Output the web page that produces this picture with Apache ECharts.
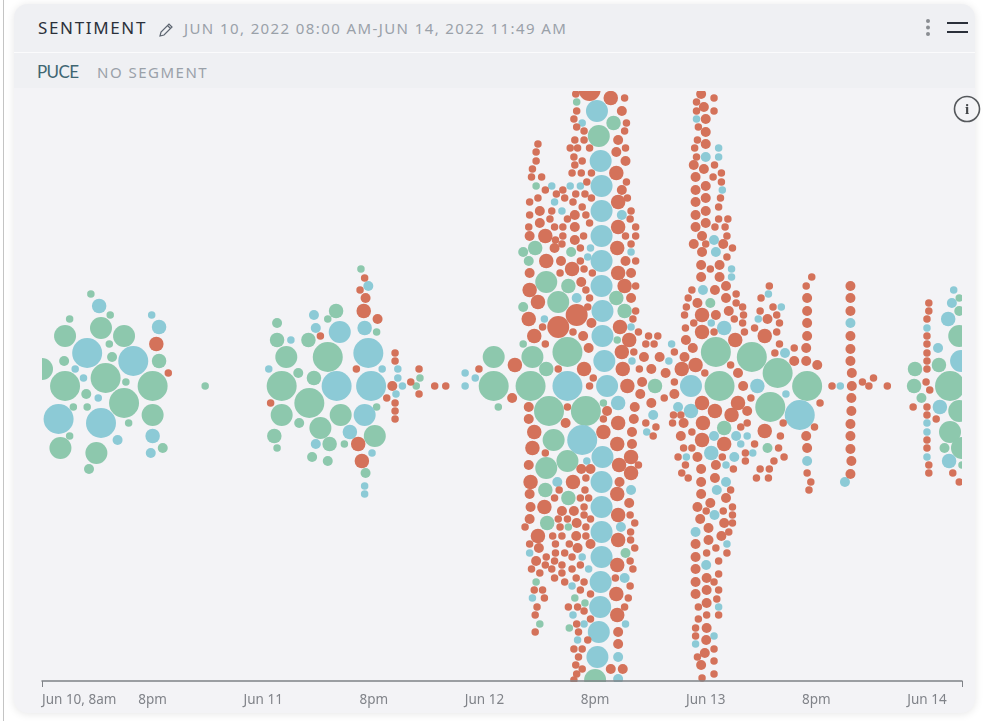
<!DOCTYPE html>
<html>

<head>
    <meta charset="UTF-8">
    <script src="https://cdn.jsdelivr.net/npm/echarts@6/dist/echarts.min.js"></script>
    <style>
    html, body {
        margin: 0;
        height: 100%;
        background: #fff;
        font-family: "Noto Sans", sans-serif;
        overflow: hidden;
    }
    .edge {
        position: absolute;
        left: 3px;
        top: 0;
        bottom: 0;
        width: 1px;
        background: #c4c4c4;
    }
    .card {
        position: absolute;
        left: 14px;
        top: 4px;
        width: 961px;
        height: 709px;
        background: #f3f3f6;
        border-radius: 14px;
        box-shadow: 0 1px 8px rgba(0, 0, 0, .10);
    }
    .head {
        position: absolute;
        left: 14px;
        top: 4px;
        width: 961px;
        height: 84px;
        background: #eff0f3;
        border-radius: 14px 14px 0 0;
        z-index: 2;
    }
    .head .rule {
        position: absolute;
        left: 0;
        right: 0;
        top: 48px;
        height: 1px;
        background: #fbfbfc;
    }
    /* 把超出绘图区的圆遮掉 */
    .mask {
        position: absolute;
        background: #f3f3f6;
        z-index: 2;
    }
    .txt {
        position: absolute;
        white-space: nowrap;
        z-index: 3;
    }
    #chart {
        position: absolute;
        left: 0;
        top: 0;
        width: 983px;
        height: 721px;
        z-index: 1;
    }
    svg {
        position: absolute;
        z-index: 3;
    }
    </style>
</head>

<body>
    <div class="edge"></div>
    <div class="card"></div>
    <div id="chart"></div>
    <div class="head"><div class="rule"></div></div>
    <div class="mask" style="left:14px;top:88px;width:961px;height:3px"></div>
    <div class="mask" style="left:14px;top:88px;width:28px;height:592px"></div>
    <div class="mask" style="left:962px;top:88px;width:13px;height:592px"></div>
    <div class="mask" style="left:43px;top:682px;width:919px;height:10px"></div>
    <div class="txt" style="left:38px;top:16px;font-size:17px;letter-spacing:1.65px;color:#2b303a;">SENTIMENT</div>
    <svg style="left:158px;top:22px" width="16" height="16" viewBox="0 0 16 16"><path d="M2 14l1-4 8-8 3 3-8 8zM9.5 3.5l3 3" fill="none" stroke="#5d6570" stroke-width="1.2"/></svg>
    <div class="txt" style="left:184px;top:18px;font-size:15px;letter-spacing:1.4px;color:#9aa1a9;">JUN 10, 2022 08:00 AM-JUN 14, 2022 11:49 AM</div>
    <div class="txt" style="left:37px;top:61px;font-size:17px;letter-spacing:-.6px;font-family:Lato;color:#3f6672;">PUCE</div>
    <div class="txt" style="left:97px;top:62px;font-size:15px;letter-spacing:1.5px;color:#9aa1a9;">NO SEGMENT</div>
    <svg style="left:920px;top:16px" width="50" height="24" viewBox="0 0 50 24">
        <circle cx="8" cy="5" r="2" fill="#8a8d92"/><circle cx="8" cy="11.5" r="2" fill="#8a8d92"/><circle cx="8" cy="18" r="2" fill="#8a8d92"/>
        <path d="M27 7h21M27 16h21" stroke="#2b303a" stroke-width="1.8"/>
    </svg>
    <svg style="left:953px;top:94px" width="28" height="30" viewBox="0 0 28 30">
        <circle cx="14" cy="15" r="12.5" fill="none" stroke="#55585c" stroke-width="1.6"/>
        <text x="14" y="20" text-anchor="middle" font-family="Liberation Serif" font-weight="bold" font-size="15" fill="#44474b">i</text>
    </svg>
    <script>
    // 刻度文字，每12小时一个
    var tickLabels = ['Jun 10, 8am', '8pm', 'Jun 11', '8pm', 'Jun 12', '8pm', 'Jun 13', '8pm', 'Jun 14'];
    var rangeHours = 99.8;
    var spread = 295;

    // [hours since start, swarm offset, reach tier]
    var positive = [
        [0,17,4],[2.5,0,5],[6.9,8,5],[8.9,-17,5],[12,0,5],[2.5,50,4],[6.4,58,4],[8.9,50,4],[12,-29,4],[2,-62,4],[5.9,-67,4],
        [12.7,25,3],[2.4,25,2],[7.6,29,2],[4.8,-8,2],[13.1,-62,2],[5.1,-83,2],[5.3,92,1],[7.4,71,1],[3,67,1],[7.3,42,1],
        [9.1,4,1],[3.4,-21,1],[4.9,-21,1],[9.4,-37,1],[3,-50,1],[17.7,0,1],
        [26,0,5],[29,-17,5],[31,29,5],[26.5,29,4],[26,-29,4],[32.4,-29,4],[30.2,-42,4],[36.1,-50,4],[31.9,75,3],[28.9,46,3],
        [25.5,46,3],[29.5,8,3],[31.2,-58,3],[25.2,-50,3],[35.1,-87,2],[25.5,63,2],[27.8,13,2],[27.9,-37,2],[29.3,-71,2],[31,-75,2],
        [31,67,1],[34.6,117,1],[36.3,54,1],[41,8,1],[40.6,0,1],[36.3,-21,1],[25.5,-62,1],[32.8,-58,1],
        [49,29,4],[49,0,5],[49.5,-21,1],[53,0,5],[53.2,29,4],[57,34,5],[55,-25,5],[59,-25,5],[56,84,4],[54.7,104,4],[55.5,-54,4],
        [57,-75,4],[54.7,-82,4],[57.1,100,3],[62.3,88,3],[63.2,75,3],[54.7,17,3],[52.2,79,2],[52.2,42,1],[62.4,46,1],[60.9,-17,1],
        [66.5,0,3],[60.4,250,4],[62,263,3],[58,284,1],[53.6,200,1],[53.5,138,3],[52.2,134,2],[57.4,134,2],[52.8,125,2],
        [60,-294,4],[63.3,-167,2],[54.6,-104,3],[57.1,-112,3],[54.8,-137,3],[57.1,-141,1],[53.6,-196,1],[57.8,-212,1],[58.9,-217,1],
        [54,-238,1],[57.2,-242,1],
        [73.1,34,5],[73.5,0,5],[77,29,5],[79.8,13,5],[83,0,5],[79,-21,5],[74,-42,3],[72.5,83,2],[78.7,-62,2],
        [94.7,17,3],[94.6,0,3],[95.4,-12,2],[97.3,21,3],[98.5,0,5],[98.5,-46,4],[97.9,-62,2],[99.5,88,1],[99.5,75,2],[99.5,50,4],
        [99.5,-25,4],[99.8,-62,4],[99.8,-79,1]
    ];
    var neutral = [
        [4.9,33,5],[9.9,25,5],[1.8,-33,5],[6.4,-37,5],[6.2,80,3],[12.7,59,3],[12,-50,3],[8.2,-54,2],[11.8,-67,2],[11.9,71,1],
        [3.6,17,1],[4.5,8,1],[6.1,-12,1],
        [31.96,0,5],[35.4,33,5],[35.7,0,5],[32.3,54,4],[35,-29,4],[35,58,3],[33.4,-46,3],[29.5,71,2],[29.7,58,2],[35.4,100,2],
        [29.7,-58,2],[27,46,1],[24.6,17,1],[36.9,17,1],[38.6,17,1],[38.6,8,1],[38.4,-8,1],[39.1,0,1],[35.8,-67,1],[35,-100,1],[35,-108,1],
        [45.9,13,1],[47,8,1],[45.9,0,1],[57,0,5],[58.6,-54,5],[60.8,75,4],[60.8,50,4],[61,25,4],[61.3,0,4],[60.8,-71,4],
        [58,88,2],[62.5,-17,3],[66.3,-29,2],[65.6,-46,1],[59.1,-75,1],[54.5,67,1],[63.9,59,1],[64,25,1],
        [60.2,275,4],[60.6,225,4],[60.7,200,4],[60.7,175,4],[60.7,150,4],[60.7,125,4],[60.7,100,4],[58.6,263,1],[55.3,200,1],
        [57.3,200,1],[58.4,200,1],[55.6,184,1],[56.4,175,1],[62.9,171,2],[59.5,138,1],[63.9,134,1],[59.2,129,1],
        [60.7,-96,4],[60.7,-121,4],[60.7,-146,4],[60.7,-171,4],[60.6,-196,4],[60.55,-221,4],[60.4,-246,4],[60.25,-271,4],
        [63.9,-104,2],[62.8,-141,2],[63.2,-192,2],[63.3,-238,1],[62.5,-271,2],[62.5,-293,2],[55.9,-96,2],[52.9,-167,1],[58.6,-171,1],
        [59.3,-183,1],[57.5,-200,1],[53.2,-212,1],[57.6,-229,1],[58.8,-238,1],[58.1,-254,1],
        [68.3,42,1],[68,25,1],[70.4,0,4],[72.6,63,1],[74,58,3],[71.7,96,2],[77.6,0,3],[82.2,-29,5],[69,-21,2],[70.4,-25,3],
        [77.7,67,1],[80.2,79,1],[80.6,33,2],[78.8,92,1],[80.7,-8,1],[83,-75,2],[72.9,-50,2],[75.3,-50,2],[76.5,-50,1],[75.8,-58,1],
        [69.9,-71,1],[72.6,-67,3],[75.1,-71,2],[77.1,-67,1],[74.2,-79,1],[74.2,-96,2],[73.2,-104,2],
        [72.95,-129,2],[70.9,-146,2],[74.3,-158,1],[72.05,-179,2],[73.4,-221,1],[72.9,-250,1],[70.9,-258,1],
        [71,267,1],[73.4,238,1],[72,229,2],[73.4,229,1],[73.8,196,1],[72.9,146,2],[73.1,134,2],[74.8,117,1],[74.8,109,1],
        [87.7,63,2],[87.1,-96,2],[86.6,0,1],[96,58,1],[96,-37,1],[96,-46,1],[96,-71,1],
        [97.2,38,2],[97.4,-21,3],[98.4,-75,3],[98.3,67,3],[98.7,83,2],[98.9,96,1],[99.7,25,4]
    ];
    var negative = [
        [12.4,42,3],[13.7,13,1],
        [36.4,67,2],[34.9,75,3],[35.1,88,2],[34.3,-58,3],[34.7,-75,3],[34.1,17,1],[38,0,2],[42.6,0,1],[43.8,0,1],[35,108,1],[34.5,96,1],
        [30.2,50,1],[38.3,33,1],[38.3,25,1],[40.9,17,1],[40,4,1],[40.9,-8,1],[37.4,-12,1],[24.8,-17,1],[38.3,-17,1],[38.3,-25,1],[38.3,-33,1],
        [47.4,17,1],[51,-12,2],[51.3,21,3],[56,59,4],[58,71,4],
        [52.9,96,3],[53.8,84,3],[52.8,67,3],[53.4,50,3],[58.7,50,2],[59.3,38,2],[58.8,17,3],[63,17,3],[63.5,0,3],[62.7,59,3],[63.7,46,3],
        [62.9,34,3],[65.1,4,2],[65.3,29,2],[66.1,17,2],[64.9,-8,2],[66.1,-17,2],[64.3,-21,2],[61.3,-25,2],[62.5,-37,3],[60.9,-46,3],
        [62.4,-58,3],[62.6,-79,3],[63.9,-87,3],[63.9,-71,3],[64.2,-33,2],[64,-46,2],[64,-58,2],[65.5,-37,1],[66.6,-41,1],[66.3,-50,1],
        [64.7,-79,1],[52.8,-21,2],[52.8,-33,2],[53.4,-46,3],[53.2,-62,3],[52.8,-79,2],[53,-96,3],[56.8,-37,2],[57,-21,1],[60.9,-33,1],
        [54.6,-67,1],[58.5,-83,2],[59.5,-83,2],[57.6,-96,3],[59,-92,1],[56,17,1],[59.8,8,1],[59.4,0,1],[54.3,59,1],[54.6,42,1],[57.6,54,1],
        [59.6,63,2],[59.2,79,1],[59.4,88,1],[59,96,1],[58.5,104,2],[64.4,100,1],[63.9,88,2],[63.2,100,3],[64.4,75,1],[64.1,67,1],[64.7,54,1],
        [65.8,50,1],[65.5,42,1],[66.4,42,1],[64.2,34,1],[64.8,17,1],
        [59.4,296,4],[61.7,288,3],[63.2,288,1],[57.9,292,1],[58,275,1],[62.9,275,2],[57.7,267,1],[58,259,1],[63.4,263,1],[58.8,255,1],[63.2,255,1],
        [57.8,246,1],[58.8,246,1],[62.5,246,2],[57.3,238,1],[58.1,238,1],[59.4,238,1],[63.3,238,1],[62.3,234,2],[57.7,229,1],
        [53.8,242,1],[53.6,234,1],[53.6,225,1],[53.2,217,1],[53.1,209,1],[54.2,209,1],[54.6,196,1],[56.5,196,1],[58.6,225,1],[57.8,221,1],
        [57.5,213,1],[58.5,213,1],[59.6,213,1],[59.1,204,1],[63.3,225,2],[62.3,213,3],[63.4,204,1],[62.9,196,2],[63.5,188,1],[62.5,184,3],
        [55.8,192,1],[57.9,192,1],[58.9,192,1],[53.8,188,1],[56.7,188,1],[59.6,188,1],[52.9,184,1],[57.6,184,1],[58.6,179,1],[54,175,2],
        [55.3,175,1],[63.9,175,1],[52.9,171,1],[57.8,171,2],[59,171,1],[55.1,167,1],[57,167,1],[63.8,167,1],[54,163,2],[59.4,163,1],
        [55.6,159,1],[57.8,159,2],[52.8,159,1],[56.5,159,1],[62.5,159,3],[64.4,159,1],[52.9,150,2],[54.6,150,3],[56.5,150,1],[58.75,150,1],
        [63.3,150,1],[64.4,150,1],[55.7,146,1],[57.8,146,2],[62.4,138,3],[63.9,142,1],[56.4,142,1],[55.6,138,2],[58.4,138,1],[54.7,125,3],
        [56.3,125,2],[58.4,125,1],[63.3,125,2],[64.4,125,1],[57.5,117,3],[58.8,117,1],[52.9,113,2],[56.2,113,1],[59.7,113,1],[62.5,113,3],[63.9,113,2],
        [62.65,-96,2],[62.4,-108,3],[63.7,-117,2],[62.5,-129,3],[63.8,-129,1],[64.3,-137,1],[63.85,-146,1],[62.5,-154,3],[63.85,-154,1],
        [64.3,-162,1],[63.8,-175,1],[62.4,-179,3],[64.1,-183,1],[62.2,-192,1],[63.8,-200,1],[62.3,-208,3],[63.6,-212,1],[63.2,-221,1],
        [62.4,-229,3],[62.5,-246,2],[62.5,-258,2],[61.7,-283,2],[63,-283,2],
        [56.1,-104,1],[58.9,-104,1],[52.9,-108,2],[55.6,-112,1],[58.4,-112,1],[59.3,-112,1],[53,-121,2],[54.5,-121,3],[58.8,-121,1],
        [56.4,-125,2],[57.7,-125,2],[58.8,-129,1],[59.5,-133,1],[52.9,-133,2],[56,-133,1],[57,-133,1],[58,-137,2],[52.4,-141,1],[56.2,-141,1],
        [59,-141,1],[53.8,-150,3],[55.4,-150,1],[56.4,-150,1],[57.95,-150,2],[59,-150,1],[55.7,-158,1],[57.2,-158,1],[59.5,-158,2],[52.9,-158,1],
        [53.9,-162,2],[58.1,-162,2],[55.7,-167,1],[56.7,-167,1],[54.7,-171,1],[57.5,-171,1],[53.6,-175,2],[55.6,-175,1],[54.6,-179,1],[56.4,-179,1],
        [58.4,-179,1],[53.1,-183,1],[55.3,-183,1],[57.5,-183,1],[54,-187,1],[56.4,-187,1],[55.6,-192,1],[57.95,-192,1],[56.7,-196,1],[58.8,-196,1],
        [53.4,-204,1],[54.3,-204,1],[58.4,-204,1],[59.5,-208,1],[54.5,-212,1],[53.7,-221,1],[57.1,-221,1],[58.1,-221,1],[58.8,-225,1],[53.5,-229,1],
        [59.5,-233,1],[58,-238,1],[53.5,-246,1],[58.2,-246,1],[59.2,-254,1],[57.7,-263,1],[58.6,-263,1],[58.2,-271,1],[57.9,-279,1],[58.6,-283,1],
        [58,-288,1],[57.7,-294,1],
        [67,29,2],[67.65,13,2],[68.6,4,1],[68.6,-8,2],[67.5,-12,1],[66.8,50,1],[68.6,34,1],[69.7,29,2],[69.4,17,3],[70.9,21,3],[76.06,0,2],
        [75.5,13,2],[74.7,21,1],[71.9,13,1],[75.2,46,3],[78.4,50,3],[71.6,54,3],[71.6,71,3],[71.1,83,2],[73.1,71,2],[74.5,75,2],[74.2,88,2],[73,96,2],
        [70.1,88,1],[69.9,79,1],[69.7,71,1],[70.7,63,1],[69.8,58,1],[69.85,46,2],[70.6,38,2],[72.9,54,1],[75.1,67,1],[76,63,1],[76.1,71,1],[76,79,1],
        [75.3,83,1],[75.3,92,1],[76.2,54,1],[77.3,58,1],[77.9,75,1],[78.7,67,2],[79.3,79,1],[79.7,71,1],[80,63,1],[79.7,54,1],[80,42,1],[79.5,33,1],
        [81.6,38,1],[81.6,25,2],[82.9,38,2],[82.9,25,2],[84.1,21,2],[83,50,2],[83,63,2],[83,75,2],[83,88,2],[78,88,1],[84.4,-17,1],[76.9,-12,1],
        [75.5,-17,3],[76.5,-25,2],[74.8,-29,3],[73,-25,3],[71.6,-17,3],[68.5,-29,1],[69.3,-29,1],[68.4,-37,1],[69.6,-37,2],[71.7,-37,3],[75.8,-41,1],
        [76.5,-37,1],[78.4,-45,3],[80.4,-37,1],[83.8,-41,1],[80.1,-50,1],[82.9,-50,2],[83,-62,2],[83,-87,1],[83.4,-96,1],[83.2,-104,1],[69.3,-50,2],
        [70.5,-46,1],[71.6,-54,3],[74,-58,3],[77.3,-58,1],[79.9,-62,1],[69.6,-62,1],[70.5,-62,1],[69,-71,1],[71.1,-71,2],[73.8,-71,1],[76.3,-67,1],
        [76.3,-75,1],[79.4,-75,1],[80.5,-71,1],[69.8,-79,1],[73.1,-79,2],[71.5,-83,2],[75,-83,1],[77.9,-83,1],[78.9,-83,1],[69.4,-87,1],[70.1,-92,1],
        [73,-92,2],[77.5,-92,1],[78.8,-92,1],[71.5,-96,2],[74.7,-104,1],
        [71.5,-108,2],[74.2,-112,2],[72.5,-117,2],[71.1,-121,2],[74.9,-121,1],[72.05,-125,1],[73.9,-125,1],[74.9,-129,1],[71.4,-133,2],[74,-137,2],
        [74.9,-137,1],[72.3,-142,2],[74.5,-146,1],[73.7,-150,2],[72.3,-154,2],[70.9,-158,2],[73.1,-162,1],[72.1,-167,1],[74.3,-167,1],[70.9,-171,2],
        [73.4,-175,1],[70.9,-183,2],[73.4,-188,1],[72.1,-192,2],[72.9,-196,1],[70.9,-196,2],[72.1,-204,2],[73.4,-204,1],[70.9,-208,2],[73.2,-213,1],
        [72.1,-217,2],[71.2,-221,1],[72.1,-229,1],[73.4,-229,1],[71.2,-233,1],[70.9,-242,1],[72.1,-242,2],[70.9,-250,1],[72.05,-254,2],[72.9,-263,1],
        [71.9,-267,2],[71.1,-271,1],[72.9,-275,1],[71.5,-279,2],[72.9,-288,1],[71.6,-292,1],
        [71.5,292,2],[72.9,288,1],[71,284,1],[71.8,279,2],[71,275,1],[72.9,275,1],[72,267,2],[71.2,259,1],[72,254,2],[71.1,246,1],[72,242,2],[70.8,238,1],
        [71,229,1],[70.7,221,2],[71.8,217,2],[72.95,221,1],[73.7,213,1],[70.9,209,2],[72.8,209,1],[73.7,204,1],[72,200,2],[70.9,196,2],[73.6,188,1],
        [72,188,2],[70.9,184,2],[73.4,179,1],[72,175,2],[70.9,171,2],[73.4,167,1],[74.4,167,1],[72,163,2],[70.9,159,2],[73,159,1],[74.1,159,1],[71.6,150,2],
        [74.3,150,1],[70.7,142,2],[72,142,1],[73.9,142,2],[74.9,138,1],[71.6,134,2],[74.3,129,1],[71.5,121,2],[73.5,121,2],[72.5,117,1],[71.5,109,2],
        [73.5,109,2],[74.2,100,2],[70.5,96,1],[78.9,100,1],[83.5,109,1],[82.9,100,1],
        [87.7,100,2],[87.7,88,2],[87.7,75,2],[87.7,50,2],[87.7,37,2],[87.7,25,2],[87.85,13,2],[87.85,0,2],[87.8,-12,2],[87.8,-25,2],[87.7,-38,2],
        [87.7,-50,2],[87.7,-63,2],[87.8,-75,2],[87.7,-88,2],[85.7,0,1],[89,4,1],[89.7,0,1],[90.2,8,1],[91.7,0,1],
        [94.5,-21,1],[95.9,4,1],[96.3,-4,1],[96.2,83,1],[96.2,75,1],[96,67,1],[96,50,1],[96,42,1],[96,33,1],[96,25,1],[96,17,1],[96,-21,1],[96,-29,1],
        [96,-54,1],[96,-62,1],[96.2,-79,1],[96.2,-87,1],[97,-33,1],[98.8,-87,1],[99.5,-96,1]
    ];

    var tierSize = { 1: 7.5, 2: 10, 3: 14.5, 4: 22, 5: 30 };

    function swarm(name, list, color) {
        return {
            name: name,
            type: 'scatter',
            data: list,
            symbolSize: function(v) {
                return tierSize[v[2]];
            },
            itemStyle: { color: color, opacity: 1 },
            clip: false,
            silent: true
        };
    }

    var option = {
        animation: false,
        grid: { left: 42, right: 21, top: 91, bottom: 40 },
        xAxis: {
            type: 'value',
            min: 0,
            max: rangeHours,
            interval: 12,
            z: 5,
            splitLine: { show: false },
            axisLine: { onZero: false, lineStyle: { color: '#7f8287', width: 1.5 } },
            axisTick: {
                show: true,
                length: 6,
                lineStyle: { color: '#7f8287' },
                customValues: [0, rangeHours]
            },
            axisLabel: {
                color: '#808389',
                fontSize: 13.5,
                fontFamily: 'Noto Sans',
                margin: 12,
                alignMinLabel: 'left',
                customValues: tickLabels.map(function(t, i) { return i * 12; }),
                formatter: function(v) {
                    return tickLabels[Math.round(v / 12)];
                }
            }
        },
        yAxis: {
            type: 'value',
            show: false,
            min: -spread,
            max: spread
        },
        series: [
            swarm('Positive', positive, '#8DC8AD'),
            swarm('Neutral', neutral, '#8CCAD6'),
            swarm('Negative', negative, '#D4725A')
        ]
    };

    var myChart = echarts.init(document.getElementById('chart'));
    myChart.setOption(option);
    </script>
</body>

</html>
